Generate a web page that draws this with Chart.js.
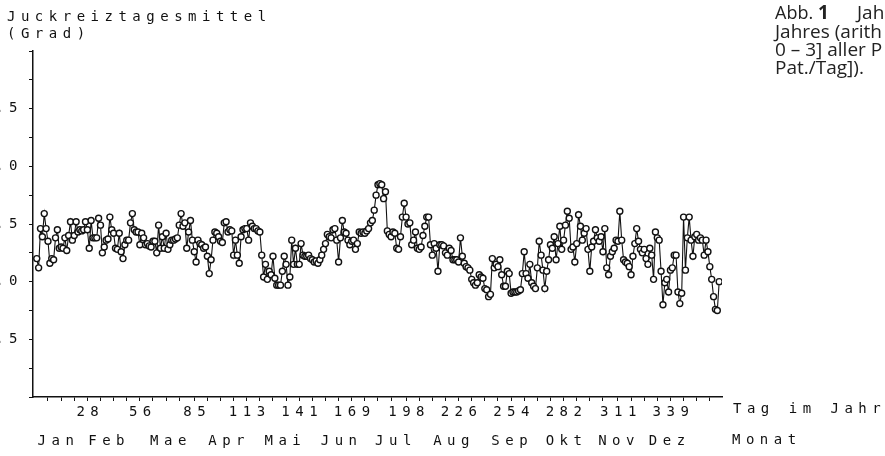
<!DOCTYPE html>
<html>
<head>
<meta charset="utf-8">
<script src="https://cdn.jsdelivr.net/npm/chart.js@4.4.0/dist/chart.umd.min.js"></script>
<style>
    html, body { margin: 0; padding: 0; background: #fff; overflow: hidden; }
    #chart { display: block; }
</style>
</head>
<body>
<canvas id="chart" width="885" height="456"></canvas>
<script>
// daily mean itch score (0-3), day 1..365
const itchMean = [
    1.20, 1.12, 1.46, 1.39, 1.59, 1.46, 1.35, 1.16, 1.20, 1.19,
    1.38, 1.45, 1.29, 1.30, 1.29, 1.38, 1.27, 1.40, 1.52, 1.36,
    1.40, 1.52, 1.43, 1.45, 1.44, 1.45, 1.52, 1.45, 1.29, 1.53,
    1.38, 1.38, 1.38, 1.55, 1.49, 1.25, 1.30, 1.36, 1.37, 1.56,
    1.45, 1.42, 1.29, 1.28, 1.42, 1.26, 1.20, 1.32, 1.36, 1.36,
    1.51, 1.59, 1.45, 1.43, 1.43, 1.32, 1.42, 1.38, 1.32, 1.33,
    1.31, 1.30, 1.35, 1.35, 1.25, 1.49, 1.29, 1.39, 1.29, 1.42,
    1.28, 1.32, 1.36, 1.36, 1.37, 1.38, 1.49, 1.59, 1.48, 1.51,
    1.29, 1.43, 1.53, 1.36, 1.26, 1.17, 1.36, 1.33, 1.32, 1.29,
    1.30, 1.22, 1.07, 1.19, 1.36, 1.43, 1.42, 1.39, 1.35, 1.34,
    1.51, 1.52, 1.43, 1.45, 1.44, 1.23, 1.36, 1.23, 1.16, 1.39,
    1.45, 1.46, 1.46, 1.36, 1.51, 1.48, 1.46, 1.46, 1.44, 1.43,
    1.23, 1.04, 1.15, 1.02, 1.09, 1.06, 1.22, 1.03, 0.97, 0.97,
    0.97, 1.09, 1.22, 1.15, 0.97, 1.04, 1.36, 1.15, 1.29, 1.15,
    1.15, 1.33, 1.23, 1.22, 1.22, 1.23, 1.20, 1.19, 1.17, 1.18,
    1.16, 1.19, 1.23, 1.28, 1.33, 1.41, 1.39, 1.38, 1.45, 1.46,
    1.36, 1.17, 1.38, 1.53, 1.43, 1.42, 1.36, 1.32, 1.35, 1.36,
    1.28, 1.33, 1.43, 1.42, 1.43, 1.42, 1.44, 1.46, 1.51, 1.53,
    1.62, 1.75, 1.84, 1.85, 1.84, 1.72, 1.78, 1.44, 1.41, 1.39,
    1.43, 1.42, 1.29, 1.28, 1.39, 1.56, 1.68, 1.56, 1.50, 1.51,
    1.32, 1.36, 1.43, 1.29, 1.28, 1.30, 1.40, 1.48, 1.56, 1.56,
    1.32, 1.23, 1.33, 1.29, 1.09, 1.32, 1.32, 1.31, 1.25, 1.23,
    1.29, 1.27, 1.19, 1.19, 1.19, 1.17, 1.38, 1.22, 1.16, 1.13,
    1.12, 1.10, 1.02, 0.99, 0.97, 0.99, 1.06, 1.04, 1.03, 0.94,
    0.93, 0.87, 0.89, 1.20, 1.12, 1.15, 1.13, 1.19, 1.06, 0.96,
    0.96, 1.09, 1.07, 0.90, 0.91, 0.91, 0.91, 0.92, 0.93, 1.07,
    1.26, 1.07, 1.03, 1.15, 0.99, 0.96, 0.94, 1.12, 1.35, 1.23,
    1.10, 0.94, 1.09, 1.19, 1.32, 1.29, 1.39, 1.19, 1.33, 1.48,
    1.28, 1.36, 1.49, 1.61, 1.55, 1.28, 1.30, 1.17, 1.33, 1.58,
    1.48, 1.36, 1.42, 1.46, 1.28, 1.09, 1.30, 1.35, 1.45, 1.38,
    1.35, 1.39, 1.26, 1.46, 1.12, 1.06, 1.22, 1.26, 1.29, 1.36,
    1.35, 1.61, 1.36, 1.19, 1.17, 1.16, 1.13, 1.06, 1.22, 1.33,
    1.46, 1.35, 1.28, 1.25, 1.28, 1.20, 1.15, 1.29, 1.23, 1.02,
    1.43, 1.38, 1.36, 1.09, 0.80, 0.99, 1.02, 0.91, 1.10, 1.12,
    1.23, 1.23, 0.91, 0.81, 0.90, 1.56, 1.10, 1.38, 1.56, 1.36,
    1.22, 1.39, 1.41, 1.36, 1.38, 1.36, 1.23, 1.36, 1.26, 1.13,
    1.02, 0.87, 0.76, 0.75, 1.00
];

const dayTicks = [28, 56, 85, 113, 141, 169, 198, 226, 254, 282, 311, 339];
const dayMinorTicks = [7, 14, 21, 35, 42, 49, 63, 70, 77, 92, 99, 106, 120, 127, 134,
    148, 155, 162, 176, 183, 190, 205, 212, 219, 233, 240, 247, 261, 268, 275,
    289, 296, 303, 318, 325, 332, 346, 353, 360];
const monthNames = ["Jan", "Feb", "Mae", "Apr", "Mai", "Jun", "Jul", "Aug", "Sep", "Okt", "Nov", "Dez"];
const monthLabelDays = [11, 38, 71, 102, 132, 162, 191, 222, 253, 282, 310, 337];
const yTicks = [0, 0.25, 0.5, 0.75, 1, 1.25, 1.5, 1.75, 2, 2.25, 2.5, 2.75, 3];
const yLabelled = [0.5, 1, 1.5, 2, 2.5];

const ink = "#111";
const plotFont = { family: "'DejaVu Sans Mono', monospace", size: 14 };
const spacing = "5.5px";

// the plotter lettering is widely spaced
const letterSpacingPlugin = {
    id: "letterSpacing",
    beforeDraw(chart) {
        chart.ctx.letterSpacing = spacing;
    }
};

const annotations = {
    id: "annotations",
    afterDraw(chart) {
        const ctx = chart.ctx;
        ctx.save();
        ctx.fillStyle = ink;
        ctx.letterSpacing = spacing;
        ctx.font = "14px 'DejaVu Sans Mono', monospace";
        ctx.textAlign = "left";
        ctx.textBaseline = "middle";
        ctx.fillText("Juckreiztagesmittel", 7, 17);
        ctx.fillText("(Grad)", 7, 34);
        ctx.fillText("Tag im Jahr", 733, 409);
        ctx.fillText("Monat", 732, 440);

        // caption of the figure, cut at the right edge
        ctx.letterSpacing = "0px";
        ctx.textBaseline = "alphabetic";
        ctx.fillStyle = "#222";
        ctx.font = "18px 'Open Sans', sans-serif";
        ctx.fillText("Abb.", 775, 19);
        ctx.font = "bold 19px 'Open Sans', sans-serif";
        ctx.fillText("1", 818, 19);
        ctx.font = "19px 'Open Sans', sans-serif";
        ctx.fillText("Jah", 857, 19);
        ctx.fillText("Jahres (arith", 775, 38);
        ctx.fillText("0 \u2013 3] aller P", 775, 56);
        ctx.fillText("Pat./Tag]).", 775, 74);
        ctx.restore();
    }
};

const chart = new Chart(document.getElementById("chart"), {
    type: "line",
    data: {
        datasets: [{
            data: itchMean.map((v, i) => ({ x: i + 1, y: v })),
            borderColor: ink,
            borderWidth: 1.1,
            pointRadius: 3,
            pointBorderWidth: 1.4,
            pointBorderColor: ink,
            pointBackgroundColor: "#fff",
            tension: 0
        }]
    },
    options: {
        responsive: false,
        animation: false,
        devicePixelRatio: 1,
        layout: { padding: { top: 51, right: 163, left: 0, bottom: 0 } },
        plugins: {
            legend: { display: false },
            tooltip: { enabled: false }
        },
        scales: {
            x: {
                type: "linear",
                position: "bottom",
                min: -1,
                max: 366.5,
                weight: 0,
                afterFit(scale) { scale.height = 30; },
                afterBuildTicks(scale) {
                    scale.ticks = dayTicks.concat(dayMinorTicks).sort((a, b) => a - b).map(v => ({ value: v }));
                },
                ticks: {
                    autoSkip: false,
                    maxRotation: 0,
                    minRotation: 0,
                    padding: 3,
                    labelOffset: 3,
                    color: ink,
                    font: plotFont,
                    callback: (v) => dayTicks.includes(v) ? String(v) : ""
                },
                grid: {
                    drawOnChartArea: false,
                    drawTicks: true,
                    tickLength: 4,
                    tickWidth: 1,
                    tickColor: ink
                },
                border: { display: true, color: ink, width: 1.5 }
            },
            months: {
                type: "linear",
                position: "bottom",
                min: -1,
                max: 366.5,
                weight: 1,
                afterFit(scale) { scale.height = 29; },
                afterBuildTicks(scale) {
                    scale.ticks = monthLabelDays.map(v => ({ value: v }));
                },
                ticks: {
                    autoSkip: false,
                    maxRotation: 0,
                    minRotation: 0,
                    padding: 6,
                    labelOffset: 3,
                    color: ink,
                    font: plotFont,
                    callback: (v, i) => monthNames[i]
                },
                grid: { display: false, drawTicks: false, drawOnChartArea: false },
                border: { display: false }
            },
            y: {
                type: "linear",
                min: 0,
                max: 3,
                afterFit(scale) { scale.width = 33; },
                afterBuildTicks(scale) {
                    scale.ticks = yTicks.map(v => ({ value: v }));
                },
                ticks: {
                    padding: 6,
                    color: ink,
                    font: plotFont,
                    callback: (v) => yLabelled.includes(v) ? v.toFixed(1) : ""
                },
                grid: {
                    drawOnChartArea: false,
                    drawTicks: true,
                    tickLength: 4,
                    tickWidth: 1,
                    tickColor: ink
                },
                border: { display: true, color: ink, width: 1.5 }
            }
        }
    },
    plugins: [letterSpacingPlugin, annotations]
});
</script>
</body>
</html>
